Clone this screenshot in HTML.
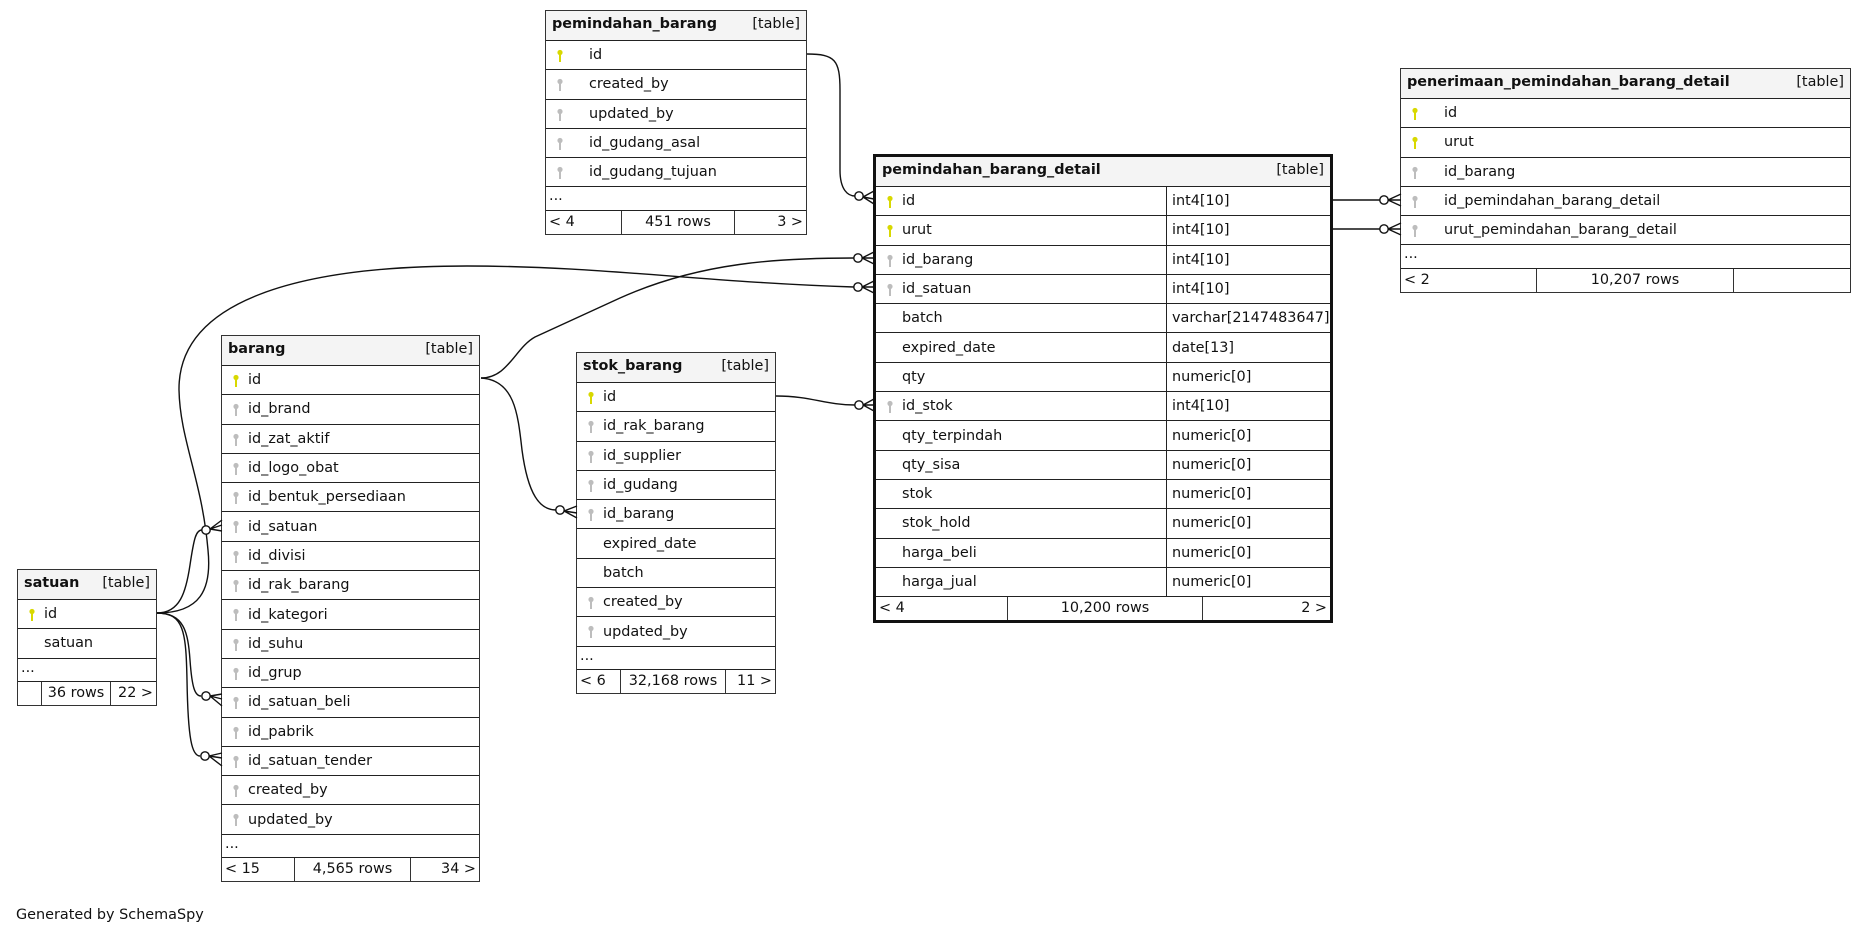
<!DOCTYPE html>
<html><head><meta charset="utf-8">
<style>
html,body{margin:0;padding:0;background:#fff;width:1867px;height:936px;overflow:hidden;position:relative}
.t{position:absolute;border:1px solid #333;background:#fff;box-sizing:border-box;font:14.4px "DejaVu Sans","Liberation Sans",sans-serif;color:#111}
.h{height:29px;background:#f4f4f4;display:flex;justify-content:space-between;align-items:center;padding:0 6px 3px 6px;box-sizing:border-box}
.h b{font-weight:bold}
.r{height:29.3px;border-top:1.4px solid #222;box-sizing:border-box;display:flex;align-items:center;position:relative;white-space:nowrap}
.r svg{position:absolute;left:10px;top:8px}
.e{height:23.5px;border-top:1.4px solid #222;box-sizing:border-box;padding:1px 0 0 3px;line-height:16px}
.f{height:24px;border-top:1.4px solid #222;box-sizing:border-box;display:flex;white-space:nowrap}
.f div{box-sizing:border-box;padding:0 3px;line-height:22px}
.f div+div{border-left:1.4px solid #333}
.c2{position:absolute;top:0;bottom:0;border-left:1.4px solid #222;padding-left:5px;display:flex;align-items:center}
</style></head><body>

<!-- pemindahan_barang -->
<div class="t" style="left:545px;top:10px;width:262px">
<div class="h"><b>pemindahan_barang</b><span>[table]</span></div>
<div class="r" style="padding-left:43px"><svg width="8" height="14"><circle cx="4" cy="3.5" r="2.6" fill="#d8d800"/><rect x="3" y="5" width="2" height="8" fill="#d8d800"/></svg>id</div>
<div class="r" style="padding-left:43px"><svg width="8" height="14"><circle cx="4" cy="3.5" r="2.6" fill="#bdbdbd"/><rect x="3" y="5" width="2" height="8" fill="#bdbdbd"/></svg>created_by</div>
<div class="r" style="padding-left:43px"><svg width="8" height="14"><circle cx="4" cy="3.5" r="2.6" fill="#bdbdbd"/><rect x="3" y="5" width="2" height="8" fill="#bdbdbd"/></svg>updated_by</div>
<div class="r" style="padding-left:43px"><svg width="8" height="14"><circle cx="4" cy="3.5" r="2.6" fill="#bdbdbd"/><rect x="3" y="5" width="2" height="8" fill="#bdbdbd"/></svg>id_gudang_asal</div>
<div class="r" style="padding-left:43px"><svg width="8" height="14"><circle cx="4" cy="3.5" r="2.6" fill="#bdbdbd"/><rect x="3" y="5" width="2" height="8" fill="#bdbdbd"/></svg>id_gudang_tujuan</div>
<div class="e">...</div>
<div class="f"><div style="width:75px">&lt; 4</div><div style="width:113px;text-align:center">451 rows</div><div style="flex:1;text-align:right">3 &gt;</div></div>
</div>

<!-- penerimaan_pemindahan_barang_detail -->
<div class="t" style="left:1400px;top:68px;width:451px">
<div class="h"><b>penerimaan_pemindahan_barang_detail</b><span>[table]</span></div>
<div class="r" style="padding-left:43px"><svg width="8" height="14"><circle cx="4" cy="3.5" r="2.6" fill="#d8d800"/><rect x="3" y="5" width="2" height="8" fill="#d8d800"/></svg>id</div>
<div class="r" style="padding-left:43px"><svg width="8" height="14"><circle cx="4" cy="3.5" r="2.6" fill="#d8d800"/><rect x="3" y="5" width="2" height="8" fill="#d8d800"/></svg>urut</div>
<div class="r" style="padding-left:43px"><svg width="8" height="14"><circle cx="4" cy="3.5" r="2.6" fill="#bdbdbd"/><rect x="3" y="5" width="2" height="8" fill="#bdbdbd"/></svg>id_barang</div>
<div class="r" style="padding-left:43px"><svg width="8" height="14"><circle cx="4" cy="3.5" r="2.6" fill="#bdbdbd"/><rect x="3" y="5" width="2" height="8" fill="#bdbdbd"/></svg>id_pemindahan_barang_detail</div>
<div class="r" style="padding-left:43px"><svg width="8" height="14"><circle cx="4" cy="3.5" r="2.6" fill="#bdbdbd"/><rect x="3" y="5" width="2" height="8" fill="#bdbdbd"/></svg>urut_pemindahan_barang_detail</div>
<div class="e">...</div>
<div class="f"><div style="width:135px">&lt; 2</div><div style="width:197px;text-align:center">10,207 rows</div><div style="flex:1"></div></div>
</div>

<!-- pemindahan_barang_detail -->
<div class="t" style="left:873px;top:154px;width:460px;border:3px solid #111">
<div class="h"><b>pemindahan_barang_detail</b><span>[table]</span></div>
<div class="r" style="padding-left:26px"><svg width="8" height="14"><circle cx="4" cy="3.5" r="2.6" fill="#d8d800"/><rect x="3" y="5" width="2" height="8" fill="#d8d800"/></svg>id<div class="c2" style="left:290px">int4[10]</div></div>
<div class="r" style="padding-left:26px"><svg width="8" height="14"><circle cx="4" cy="3.5" r="2.6" fill="#d8d800"/><rect x="3" y="5" width="2" height="8" fill="#d8d800"/></svg>urut<div class="c2" style="left:290px">int4[10]</div></div>
<div class="r" style="padding-left:26px"><svg width="8" height="14"><circle cx="4" cy="3.5" r="2.6" fill="#bdbdbd"/><rect x="3" y="5" width="2" height="8" fill="#bdbdbd"/></svg>id_barang<div class="c2" style="left:290px">int4[10]</div></div>
<div class="r" style="padding-left:26px"><svg width="8" height="14"><circle cx="4" cy="3.5" r="2.6" fill="#bdbdbd"/><rect x="3" y="5" width="2" height="8" fill="#bdbdbd"/></svg>id_satuan<div class="c2" style="left:290px">int4[10]</div></div>
<div class="r" style="padding-left:26px">batch<div class="c2" style="left:290px">varchar[2147483647]</div></div>
<div class="r" style="padding-left:26px">expired_date<div class="c2" style="left:290px">date[13]</div></div>
<div class="r" style="padding-left:26px">qty<div class="c2" style="left:290px">numeric[0]</div></div>
<div class="r" style="padding-left:26px"><svg width="8" height="14"><circle cx="4" cy="3.5" r="2.6" fill="#bdbdbd"/><rect x="3" y="5" width="2" height="8" fill="#bdbdbd"/></svg>id_stok<div class="c2" style="left:290px">int4[10]</div></div>
<div class="r" style="padding-left:26px">qty_terpindah<div class="c2" style="left:290px">numeric[0]</div></div>
<div class="r" style="padding-left:26px">qty_sisa<div class="c2" style="left:290px">numeric[0]</div></div>
<div class="r" style="padding-left:26px">stok<div class="c2" style="left:290px">numeric[0]</div></div>
<div class="r" style="padding-left:26px">stok_hold<div class="c2" style="left:290px">numeric[0]</div></div>
<div class="r" style="padding-left:26px">harga_beli<div class="c2" style="left:290px">numeric[0]</div></div>
<div class="r" style="padding-left:26px">harga_jual<div class="c2" style="left:290px">numeric[0]</div></div>
<div class="f"><div style="width:131px">&lt; 4</div><div style="width:195px;text-align:center">10,200 rows</div><div style="flex:1;text-align:right">2 &gt;</div></div>
</div>

<!-- barang -->
<div class="t" style="left:221px;top:335px;width:259px">
<div class="h"><b>barang</b><span>[table]</span></div>
<div class="r" style="padding-left:26px"><svg width="8" height="14"><circle cx="4" cy="3.5" r="2.6" fill="#d8d800"/><rect x="3" y="5" width="2" height="8" fill="#d8d800"/></svg>id</div>
<div class="r" style="padding-left:26px"><svg width="8" height="14"><circle cx="4" cy="3.5" r="2.6" fill="#bdbdbd"/><rect x="3" y="5" width="2" height="8" fill="#bdbdbd"/></svg>id_brand</div>
<div class="r" style="padding-left:26px"><svg width="8" height="14"><circle cx="4" cy="3.5" r="2.6" fill="#bdbdbd"/><rect x="3" y="5" width="2" height="8" fill="#bdbdbd"/></svg>id_zat_aktif</div>
<div class="r" style="padding-left:26px"><svg width="8" height="14"><circle cx="4" cy="3.5" r="2.6" fill="#bdbdbd"/><rect x="3" y="5" width="2" height="8" fill="#bdbdbd"/></svg>id_logo_obat</div>
<div class="r" style="padding-left:26px"><svg width="8" height="14"><circle cx="4" cy="3.5" r="2.6" fill="#bdbdbd"/><rect x="3" y="5" width="2" height="8" fill="#bdbdbd"/></svg>id_bentuk_persediaan</div>
<div class="r" style="padding-left:26px"><svg width="8" height="14"><circle cx="4" cy="3.5" r="2.6" fill="#bdbdbd"/><rect x="3" y="5" width="2" height="8" fill="#bdbdbd"/></svg>id_satuan</div>
<div class="r" style="padding-left:26px"><svg width="8" height="14"><circle cx="4" cy="3.5" r="2.6" fill="#bdbdbd"/><rect x="3" y="5" width="2" height="8" fill="#bdbdbd"/></svg>id_divisi</div>
<div class="r" style="padding-left:26px"><svg width="8" height="14"><circle cx="4" cy="3.5" r="2.6" fill="#bdbdbd"/><rect x="3" y="5" width="2" height="8" fill="#bdbdbd"/></svg>id_rak_barang</div>
<div class="r" style="padding-left:26px"><svg width="8" height="14"><circle cx="4" cy="3.5" r="2.6" fill="#bdbdbd"/><rect x="3" y="5" width="2" height="8" fill="#bdbdbd"/></svg>id_kategori</div>
<div class="r" style="padding-left:26px"><svg width="8" height="14"><circle cx="4" cy="3.5" r="2.6" fill="#bdbdbd"/><rect x="3" y="5" width="2" height="8" fill="#bdbdbd"/></svg>id_suhu</div>
<div class="r" style="padding-left:26px"><svg width="8" height="14"><circle cx="4" cy="3.5" r="2.6" fill="#bdbdbd"/><rect x="3" y="5" width="2" height="8" fill="#bdbdbd"/></svg>id_grup</div>
<div class="r" style="padding-left:26px"><svg width="8" height="14"><circle cx="4" cy="3.5" r="2.6" fill="#bdbdbd"/><rect x="3" y="5" width="2" height="8" fill="#bdbdbd"/></svg>id_satuan_beli</div>
<div class="r" style="padding-left:26px"><svg width="8" height="14"><circle cx="4" cy="3.5" r="2.6" fill="#bdbdbd"/><rect x="3" y="5" width="2" height="8" fill="#bdbdbd"/></svg>id_pabrik</div>
<div class="r" style="padding-left:26px"><svg width="8" height="14"><circle cx="4" cy="3.5" r="2.6" fill="#bdbdbd"/><rect x="3" y="5" width="2" height="8" fill="#bdbdbd"/></svg>id_satuan_tender</div>
<div class="r" style="padding-left:26px"><svg width="8" height="14"><circle cx="4" cy="3.5" r="2.6" fill="#bdbdbd"/><rect x="3" y="5" width="2" height="8" fill="#bdbdbd"/></svg>created_by</div>
<div class="r" style="padding-left:26px"><svg width="8" height="14"><circle cx="4" cy="3.5" r="2.6" fill="#bdbdbd"/><rect x="3" y="5" width="2" height="8" fill="#bdbdbd"/></svg>updated_by</div>
<div class="e">...</div>
<div class="f"><div style="width:72px">&lt; 15</div><div style="width:116px;text-align:center">4,565 rows</div><div style="flex:1;text-align:right">34 &gt;</div></div>
</div>

<!-- satuan -->
<div class="t" style="left:17px;top:569px;width:140px">
<div class="h"><b>satuan</b><span>[table]</span></div>
<div class="r" style="padding-left:26px"><svg width="8" height="14"><circle cx="4" cy="3.5" r="2.6" fill="#d8d800"/><rect x="3" y="5" width="2" height="8" fill="#d8d800"/></svg>id</div>
<div class="r" style="padding-left:26px">satuan</div>
<div class="e">...</div>
<div class="f"><div style="width:23px"></div><div style="width:69px;text-align:center">36 rows</div><div style="flex:1;text-align:right">22 &gt;</div></div>
</div>

<!-- stok_barang -->
<div class="t" style="left:576px;top:352px;width:200px">
<div class="h"><b>stok_barang</b><span>[table]</span></div>
<div class="r" style="padding-left:26px"><svg width="8" height="14"><circle cx="4" cy="3.5" r="2.6" fill="#d8d800"/><rect x="3" y="5" width="2" height="8" fill="#d8d800"/></svg>id</div>
<div class="r" style="padding-left:26px"><svg width="8" height="14"><circle cx="4" cy="3.5" r="2.6" fill="#bdbdbd"/><rect x="3" y="5" width="2" height="8" fill="#bdbdbd"/></svg>id_rak_barang</div>
<div class="r" style="padding-left:26px"><svg width="8" height="14"><circle cx="4" cy="3.5" r="2.6" fill="#bdbdbd"/><rect x="3" y="5" width="2" height="8" fill="#bdbdbd"/></svg>id_supplier</div>
<div class="r" style="padding-left:26px"><svg width="8" height="14"><circle cx="4" cy="3.5" r="2.6" fill="#bdbdbd"/><rect x="3" y="5" width="2" height="8" fill="#bdbdbd"/></svg>id_gudang</div>
<div class="r" style="padding-left:26px"><svg width="8" height="14"><circle cx="4" cy="3.5" r="2.6" fill="#bdbdbd"/><rect x="3" y="5" width="2" height="8" fill="#bdbdbd"/></svg>id_barang</div>
<div class="r" style="padding-left:26px">expired_date</div>
<div class="r" style="padding-left:26px">batch</div>
<div class="r" style="padding-left:26px"><svg width="8" height="14"><circle cx="4" cy="3.5" r="2.6" fill="#bdbdbd"/><rect x="3" y="5" width="2" height="8" fill="#bdbdbd"/></svg>created_by</div>
<div class="r" style="padding-left:26px"><svg width="8" height="14"><circle cx="4" cy="3.5" r="2.6" fill="#bdbdbd"/><rect x="3" y="5" width="2" height="8" fill="#bdbdbd"/></svg>updated_by</div>
<div class="e">...</div>
<div class="f"><div style="width:43px">&lt; 6</div><div style="width:105px;text-align:center">32,168 rows</div><div style="flex:1;text-align:right">11 &gt;</div></div>
</div>

<div style="position:absolute;left:16px;top:907px;font:14.4px 'DejaVu Sans','Liberation Sans',sans-serif;color:#111">Generated by SchemaSpy</div>

<svg width="1867" height="936" style="position:absolute;left:0;top:0" fill="none" stroke="#111" stroke-width="1.4">
<path d="M807,54 C835,54 840,60 840,90 L840,170 C840,190 848,196 855,196"/>
<circle cx="859" cy="196" r="4.2" fill="#fff"/>
<path d="M863,197 L874,191 M863,197 L874,199 M863,197 L874,204"/>
<path d="M481,378 C508,378 515,348 535,337 L620,298 C700,262 780,258 854,258"/>
<circle cx="858" cy="258" r="4.2" fill="#fff"/>
<path d="M862,258 L874,252 M862,258 L874,258 M862,258 L874,264"/>
<path d="M481,378 C515,380 518,415 522,450 C528,495 540,510 556,510"/>
<circle cx="560" cy="510" r="4.2" fill="#fff"/>
<path d="M564,511 L577,506 M564,511 L577,513 M564,511 L577,518"/>
<path d="M776,396 C812,396 825,405 855,405"/>
<circle cx="859" cy="405" r="4.2" fill="#fff"/>
<path d="M863,405 L874,399 M863,405 L874,405 M863,405 L874,411"/>
<path d="M157,613 C200,613 212,590 208,550 C202,480 180,440 179,390 C178,300 300,266 467,266 C600,266 700,282 854,287"/>
<circle cx="858" cy="287" r="4.2" fill="#fff"/>
<path d="M862,287 L874,281 M862,287 L874,287 M862,287 L874,293"/>
<path d="M157,613 C180,613 186,592 190,565 C194,538 196,530 202,530"/>
<circle cx="206" cy="530" r="4.2" fill="#fff"/>
<path d="M210,529 L222,520 M210,529 L222,525 M210,529 L222,531"/>
<path d="M157,613 C184,613 188,632 190,660 C192,688 195,696 201,696"/>
<circle cx="206" cy="696" r="4.2" fill="#fff"/>
<path d="M210,696 L222,694 M210,696 L222,699 M210,696 L222,706"/>
<path d="M157,613 C184,613 186,632 187,680 C188,740 192,756 200,756"/>
<circle cx="205" cy="756" r="4.2" fill="#fff"/>
<path d="M209,756 L222,753 M209,756 L222,758 M209,756 L222,766"/>
<path d="M1333,200 L1380,200"/>
<circle cx="1384" cy="200" r="4.2" fill="#fff"/>
<path d="M1388,200 L1401,194 M1388,200 L1401,200 M1388,200 L1401,206"/>
<path d="M1333,229 L1380,229"/>
<circle cx="1384" cy="229" r="4.2" fill="#fff"/>
<path d="M1388,229 L1401,223 M1388,229 L1401,229 M1388,229 L1401,235"/>
</svg>
</body></html>
